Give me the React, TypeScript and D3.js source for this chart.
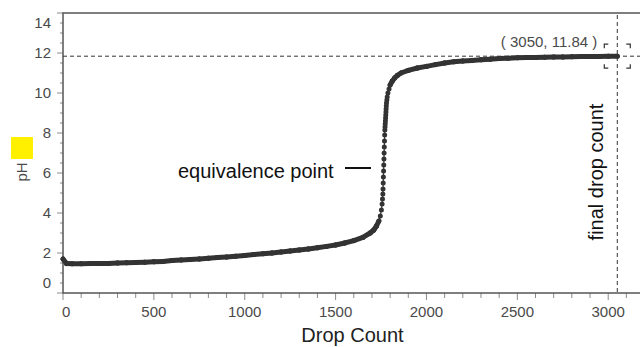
import React, { useEffect, useRef } from 'react';
import * as d3 from 'd3';

// titration readings: drop count vs pH
const dropCount = [
  0, 20, 50, 100, 150, 200, 250, 300, 350, 400, 450, 500, 550, 600, 650, 700, 750, 800, 850, 900,
  950, 1000, 1050, 1100, 1150, 1200, 1250, 1300, 1350, 1400, 1450, 1500, 1550, 1600, 1650,
  1690, 1710, 1725, 1738, 1746, 1752, 1756, 1758, 1760, 1761, 1762, 1763, 1764, 1765, 1766, 1767,
  1768, 1769, 1770, 1771, 1772, 1773, 1774, 1775, 1776, 1777, 1778, 1779, 1780, 1782, 1784, 1788,
  1794, 1800, 1812, 1825, 1840, 1860, 1900, 1950, 2000, 2050, 2100, 2150, 2200, 2250, 2300, 2350,
  2400, 2450, 2500, 2550, 2600, 2650, 2700, 2750, 2800, 2850, 2900, 2950, 3000, 3050,
];
const phValues = [
  1.7, 1.47, 1.46, 1.46, 1.47, 1.47, 1.48, 1.5, 1.51, 1.52, 1.54, 1.56, 1.58, 1.62, 1.65, 1.67, 1.7, 1.74, 1.77, 1.8,
  1.84, 1.88, 1.92, 1.96, 2.0, 2.05, 2.1, 2.15, 2.2, 2.26, 2.33, 2.4, 2.5, 2.62, 2.78,
  3.0, 3.15, 3.35, 3.6, 3.85, 4.15, 4.45, 4.7, 4.95, 5.2, 5.5, 5.8, 6.1, 6.4, 6.7, 7.0,
  7.3, 7.6, 7.9, 8.15, 8.3, 8.45, 8.6, 8.75, 8.9, 9.05, 9.2, 9.35, 9.5, 9.65, 9.8, 10.0,
  10.2, 10.4, 10.6, 10.75, 10.88, 11.0, 11.13, 11.25, 11.33, 11.42, 11.5, 11.56, 11.6, 11.63, 11.66, 11.69,
  11.72, 11.74, 11.76, 11.77, 11.78, 11.79, 11.8, 11.8, 11.81, 11.82, 11.82, 11.83, 11.84, 11.84,
];

const finalDrop = 3050;
const finalPh = 11.84;

const yTickValues = [0, 2, 4, 6, 8, 10, 12, 14];
const xTickValues = [0, 500, 1000, 1500, 2000, 2500, 3000];

const font = '"Liberation Sans", Arial, sans-serif';

export default function App() {
  const ref = useRef<SVGSVGElement>(null);

  useEffect(() => {
    const svg = d3.select(ref.current);
    svg.selectAll('*').remove();

    const left = 63, top = 13, bottom = 293, right = 640;
    const x = d3.scaleLinear().domain([0, 3175]).range([left, right]);
    const y = d3.scaleLinear().domain([0, 14]).range([bottom, top]);

    const axisColor = '#555';
    const tickColor = '#8a8a8a';
    const labelColor = '#4a4a4a';

    // yellow marker beside the axis title
    svg.append('rect').attr('x', 11).attr('y', 137).attr('width', 22).attr('height', 22).attr('fill', '#fff000');

    // minor / major y ticks
    const yMinor = d3.range(0, 14.01, 0.5);
    svg.append('g').selectAll('line').data(yMinor).enter().append('line')
      .attr('x1', d => (d % 2 === 0 ? left - 6 : left - 3)).attr('x2', left)
      .attr('y1', d => y(d)).attr('y2', d => y(d))
      .attr('stroke', tickColor).attr('stroke-width', 1);

    svg.append('g').selectAll('text').data(yTickValues).enter().append('text')
      .attr('x', 51).attr('y', d => Math.min(Math.max(y(d), 23), 283))
      .attr('dy', '0.36em').attr('text-anchor', 'end')
      .style('font-family', font).style('font-size', '15px').attr('fill', labelColor)
      .text(d => d);

    // x ticks
    const xMinor = d3.range(0, 3101, 100);
    svg.append('g').selectAll('line').data(xMinor).enter().append('line')
      .attr('x1', d => x(d)).attr('x2', d => x(d))
      .attr('y1', bottom).attr('y2', d => (d % 500 === 0 ? bottom + 7 : bottom + 5))
      .attr('stroke', tickColor).attr('stroke-width', 1);

    svg.append('g').selectAll('text').data(xTickValues).enter().append('text')
      .attr('x', d => (d === 0 ? left - 1 : x(d)))
      .attr('y', 312).attr('dy', '0.36em')
      .attr('text-anchor', d => (d === 0 ? 'start' : 'middle'))
      .style('font-family', font).style('font-size', '15px').attr('fill', labelColor)
      .text(d => d);

    // frame
    svg.append('path')
      .attr('d', `M${right},${top} L${left},${top} L${left},${bottom} L${right},${bottom}`)
      .attr('fill', 'none').attr('stroke', axisColor).attr('stroke-width', 1.5);

    // axis titles
    svg.append('text')
      .attr('transform', `translate(27,172) rotate(-90)`)
      .attr('text-anchor', 'middle')
      .style('font-family', font).style('font-size', '15px').attr('fill', labelColor)
      .text('pH');

    svg.append('text')
      .attr('x', (left + right) / 2 + 1).attr('y', 342)
      .attr('text-anchor', 'middle')
      .style('font-family', font).style('font-size', '20px').attr('fill', '#222')
      .text('Drop Count');

    // data: line segments (thick where the curve is flat and points pile up)
    const pts = dropCount.map((d, i) => [x(d), y(phValues[i])] as [number, number]);
    const segs = d3.pairs(pts);
    svg.append('g').selectAll('line').data(segs).enter().append('line')
      .attr('x1', d => d[0][0]).attr('y1', d => d[0][1])
      .attr('x2', d => d[1][0]).attr('y2', d => d[1][1])
      .attr('stroke', '#333')
      .attr('stroke-linecap', 'round')
      .attr('stroke-width', d => {
        const dx = Math.abs(d[1][0] - d[0][0]);
        const dy = Math.abs(d[1][1] - d[0][1]);
        return dy > dx * 3 ? 1.2 : 5;
      });

    svg.append('g').selectAll('circle').data(pts).enter().append('circle')
      .attr('cx', d => d[0]).attr('cy', d => d[1]).attr('r', 2.5)
      .attr('fill', '#333');

    // reference lines at final reading
    const fx = x(finalDrop), fy = y(finalPh);
    svg.append('line')
      .attr('x1', left).attr('x2', right).attr('y1', fy).attr('y2', fy)
      .attr('stroke', '#333').attr('stroke-width', 1).attr('stroke-dasharray', '4,3');
    svg.append('line')
      .attr('x1', fx).attr('x2', fx).attr('y1', top + 2).attr('y2', bottom)
      .attr('stroke', '#333').attr('stroke-width', 1).attr('stroke-dasharray', '4,3');

    // corner brackets around the final point
    const bx = 13, by = 12, arm = 4;
    const brackets = [
      `M${fx - bx},${fy - by + arm} V${fy - by} H${fx - bx + arm}`,
      `M${fx + bx - arm},${fy - by} H${fx + bx} V${fy - by + arm}`,
      `M${fx - bx},${fy + by - arm} V${fy + by} H${fx - bx + arm}`,
      `M${fx + bx - arm},${fy + by} H${fx + bx} V${fy + by - arm}`,
    ];
    svg.append('g').selectAll('path').data(brackets).enter().append('path')
      .attr('d', d => d).attr('fill', 'none').attr('stroke', '#333').attr('stroke-width', 1.2);

    svg.append('text')
      .attr('x', fx - 20).attr('y', 42).attr('dy', '0.36em')
      .attr('text-anchor', 'end')
      .style('font-family', font).style('font-size', '15px').attr('fill', labelColor)
      .text(`( ${finalDrop}, ${finalPh} )`);

    // annotations
    svg.append('text')
      .attr('x', 178).attr('y', 178)
      .style('font-family', font).style('font-size', '20px').attr('fill', '#111')
      .text('equivalence point');
    svg.append('line')
      .attr('x1', 345).attr('x2', 371).attr('y1', 168).attr('y2', 168)
      .attr('stroke', '#111').attr('stroke-width', 2);

    svg.append('text')
      .attr('transform', `translate(603,172) rotate(-90)`)
      .attr('text-anchor', 'middle')
      .style('font-family', font).style('font-size', '20px').attr('fill', '#111')
      .text('final drop count');
  }, []);

  return (
    <svg
      ref={ref}
      width={640}
      height={347}
      style={{ position: 'absolute', left: 0, top: 0, background: '#fff' }}
    />
  );
}
